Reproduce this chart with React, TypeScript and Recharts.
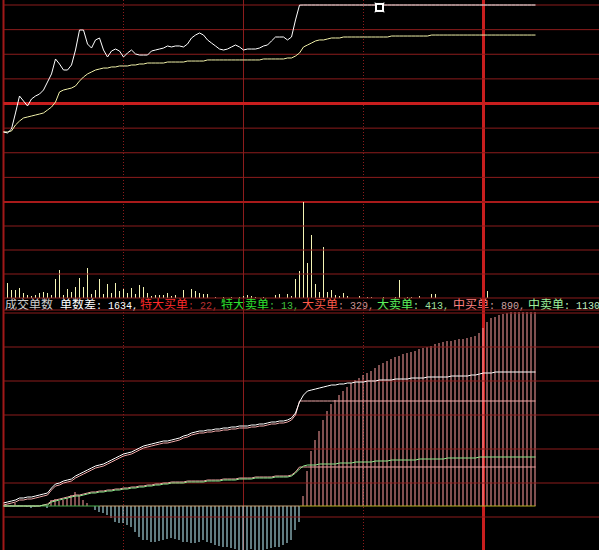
import React from 'react';
import { ComposedChart, Line, Bar, XAxis, YAxis, ReferenceLine, ReferenceDot } from 'recharts';

// price change vs previous close (%), one point per bar slot
const priceChg = [
  -2.89, -2.99, -2.59, -0.96, 0.76, 0.25, -0.25, 0.46, 0.76, 0.96,
  1.37, 2.18, 3.0, 4.52, 4.01, 3.4, 3.4, 3.91, 5.43, 7.46,
  7.46, 6.04, 5.63, 6.45, 6.65, 5.43, 4.72, 5.33, 5.53, 5.33,
  4.72, 5.13, 5.43, 5.03, 4.92, 4.92, 4.92, 5.33, 5.43, 5.53,
  5.63, 5.84, 5.74, 5.84, 5.84, 5.74, 6.04, 6.65, 6.95, 7.16,
  6.95, 6.45, 6.14, 5.84, 5.53, 5.43, 5.53, 5.74, 5.94, 5.74,
  5.43, 5.53, 5.53, 5.53, 5.63, 5.84, 5.94, 6.35, 6.75, 6.75,
  6.75, 6.45, 6.75, 8.48, 9.99, 10, 10, 10, 10, 10,
  10, 10, 10, 10, 10, 10, 10, 10, 10, 10,
  10, 10, 10, 10, 10, 10, 10, 10, 10, 10,
  10, 10, 10, 10, 10, 10, 10, 10, 10, 10,
  10, 10, 10, 10, 10, 10, 10, 10, 10, 10,
  10, 10, 10, 10, 10, 10, 10, 10, 10, 10,
  10, 10, 10, 10,
];

// average price change (%)
const avgChg = [
  -2.89, -2.89, -2.79, -2.18, -1.78, -1.47, -1.37, -1.27, -1.17, -1.07,
  -0.96, -0.66, -0.36, 0.15, 1.17, 1.37, 1.47, 1.57, 1.78, 2.28,
  2.69, 3.0, 3.2, 3.4, 3.5, 3.6, 3.6, 3.71, 3.71, 3.81,
  3.81, 3.81, 3.91, 3.91, 4.01, 4.01, 4.11, 4.11, 4.11, 4.11,
  4.11, 4.21, 4.21, 4.21, 4.21, 4.21, 4.31, 4.31, 4.31, 4.31,
  4.31, 4.42, 4.42, 4.42, 4.42, 4.42, 4.42, 4.42, 4.42, 4.42,
  4.42, 4.42, 4.42, 4.42, 4.42, 4.52, 4.52, 4.52, 4.52, 4.52,
  4.52, 4.62, 4.62, 4.82, 5.13, 5.74, 5.94, 6.14, 6.35, 6.45,
  6.45, 6.55, 6.65, 6.65, 6.65, 6.75, 6.75, 6.75, 6.75, 6.75,
  6.75, 6.75, 6.75, 6.75, 6.75, 6.75, 6.75, 6.85, 6.85, 6.85,
  6.85, 6.85, 6.85, 6.85, 6.85, 6.85, 6.85, 6.95, 6.95, 6.95,
  6.95, 6.95, 6.95, 6.95, 6.95, 6.95, 6.95, 6.95, 6.95, 6.95,
  6.95, 6.95, 6.95, 6.95, 6.95, 6.95, 6.95, 6.95, 6.95, 6.95,
  6.95, 6.95, 6.95, 6.95,
];

// traded volume
const volume = [
  0, 15, 8, 8, 10, 5, 3, 2, 3, 5,
  6, 5, 3, 19, 28, 3, 9, 6, 11, 20,
  11, 30, 4, 8, 19, 4, 14, 5, 15, 7,
  9, 5, 10, 4, 13, 11, 5, 2, 3, 3,
  3, 5, 2, 3, 0, 8, 0, 9, 7, 5,
  4, 4, 0, 1, 0, 1, 0, 1, 0, 1,
  2, 3, 2, 1, 0, 1, 0, 0, 3, 4,
  0, 4, 2, 19, 27, 96, 35, 63, 14, 6,
  51, 6, 8, 3, 2, 5, 2, 0, 0, 2,
  0, 1, 1, 0, 0, 1, 0, 0, 1, 18,
  0, 1, 1, 0, 2, 0, 0, 4, 4, 0,
  0, 0, 0, 0, 0, 0, 0, 0, 0, 0,
  0, 7, 0, 0, 0, 0, 0, 0, 0, 0,
  0, 0, 0, 0,
];

// order count difference (buy - sell)
const orderDiff = [
  0, 0, 1, 3, 1, 0, -1, -2, -1, 0,
  1, -2, 6, 7, 5, 6, 8, 11, 14, 11,
  6, 3, 0, -4, -6, -7, -9, -12, -16, -17,
  -17, -19, -21, -26, -31, -34, -34, -36, -36, -35,
  -34, -33, -32, -33, -34, -36, -36, -37, -37, -36,
  -34, -36, -37, -39, -40, -41, -41, -42, -43, -44,
  -44, -44, -43, -44, -44, -44, -43, -42, -41, -41,
  -39, -37, -34, -24, -16, 10, 35, 55, 66, 75,
  86, 95, 102, 106, 111, 115, 119, 123, 126, 128,
  131, 133, 135, 138, 141, 143, 145, 147, 149, 150,
  152, 153, 154, 155, 157, 158, 159, 160, 162, 163,
  164, 165, 165, 166, 167, 167, 168, 169, 170, 173,
  178, 184, 188, 189, 191, 192, 193, 194, 194, 194,
  194, 194, 194, 194,
];

// cumulative buy orders
const buyOrders = [
  3, 4, 5, 6, 8, 8, 9, 9, 10, 11,
  12, 13, 18, 22, 23, 25, 26, 27, 30, 32,
  34, 36, 38, 40, 41, 42, 44, 46, 48, 50,
  52, 53, 54, 56, 58, 60, 61, 62, 63, 64,
  65, 65, 66, 67, 68, 70, 71, 73, 74, 75,
  75, 76, 76, 77, 77, 78, 78, 79, 79, 80,
  80, 80, 81, 81, 82, 82, 83, 84, 84, 85,
  85, 86, 88, 93, 104, 111, 115, 116, 117, 118,
  119, 120, 121, 121, 122, 122, 123, 123, 124, 124,
  124, 125, 125, 125, 126, 126, 126, 126, 127, 127,
  127, 127, 128, 128, 128, 128, 129, 129, 129, 129,
  129, 129, 130, 130, 130, 130, 130, 131, 131, 132,
  133, 133, 133, 134, 134, 134, 134, 134, 134, 134,
  134, 134, 134, 134,
];

// cumulative sell orders
const sellOrders = [
  1, 2, 3, 4, 6, 6, 7, 7, 8, 9,
  10, 11, 16, 20, 21, 23, 24, 25, 28, 30,
  32, 34, 36, 38, 39, 40, 42, 44, 46, 48,
  50, 51, 52, 54, 56, 58, 59, 60, 61, 62,
  63, 63, 64, 65, 66, 68, 69, 71, 72, 73,
  73, 74, 74, 75, 75, 76, 76, 77, 77, 78,
  78, 78, 79, 79, 80, 80, 81, 82, 82, 83,
  83, 84, 86, 91, 105, 105, 105, 105, 105, 105,
  105, 105, 105, 105, 105, 105, 105, 105, 105, 105,
  105, 105, 105, 105, 105, 105, 105, 105, 105, 105,
  105, 105, 105, 105, 105, 105, 105, 105, 105, 105,
  105, 105, 105, 105, 105, 105, 105, 105, 105, 105,
  105, 105, 105, 105, 105, 105, 105, 105, 105, 105,
  105, 105, 105, 105,
];

// cumulative large buy orders
const bigBuy = [
  0, 0, 0, 0, 0, 0, 0, 0, 0, 0,
  1, 1, 4, 5, 6, 7, 8, 9, 10, 10,
  11, 12, 13, 13, 14, 14, 15, 15, 16, 16,
  17, 17, 18, 18, 19, 19, 20, 20, 21, 21,
  22, 22, 23, 23, 23, 23, 24, 24, 24, 24,
  24, 25, 25, 25, 25, 26, 26, 26, 26, 27,
  27, 27, 27, 28, 28, 28, 28, 28, 29, 29,
  29, 29, 30, 33, 37, 40, 41, 41, 41, 42,
  42, 42, 42, 42, 43, 43, 43, 43, 44, 44,
  44, 44, 44, 45, 45, 45, 45, 46, 46, 46,
  46, 46, 46, 46, 47, 47, 47, 47, 47, 47,
  47, 48, 48, 48, 48, 48, 48, 48, 48, 49,
  49, 49, 49, 49, 49, 49, 49, 49, 49, 49,
  49, 49, 49, 49,
];

// cumulative large sell orders
const bigSell = [
  0, 0, 0, 0, 0, 0, 0, 0, 0, 0,
  1, 2, 5, 6, 7, 8, 9, 10, 11, 11,
  12, 13, 14, 14, 15, 15, 16, 16, 17, 17,
  18, 18, 19, 19, 20, 20, 21, 21, 22, 22,
  23, 23, 24, 24, 24, 24, 25, 25, 25, 25,
  25, 26, 26, 26, 26, 27, 27, 27, 27, 28,
  28, 28, 28, 29, 29, 29, 29, 29, 30, 30,
  30, 30, 31, 34, 39, 39, 39, 39, 39, 39,
  39, 39, 39, 39, 39, 39, 39, 39, 39, 39,
  39, 39, 39, 39, 39, 39, 39, 39, 39, 39,
  39, 39, 39, 39, 39, 39, 39, 39, 39, 39,
  39, 39, 39, 39, 39, 39, 39, 39, 39, 39,
  39, 39, 39, 39, 39, 39, 39, 39, 39, 39,
  39, 39, 39, 39,
];

const legendNames = ['单数差', '特大买单', '特大卖单', '大买单', '大卖单', '中买单', '中卖单'];
const legendCounts = [1634, 22, 13, 329, 413, 890, 1130];

const W = 599;
const H = 550;
// index i lands on pixel column 4i + 3.5
const X_DOMAIN: [number, number] = [-0.875, 148.875];

// every panel chart covers the full canvas; the y domain places its zero row
const yDomain = (zeroY: number, pxPerUnit: number): [number, number] => [
  (zeroY - H) / pxPerUnit,
  zeroY / pxPerUnit,
];

const GRID = '#8c1c1c';
const GRID_HOT = '#c81e1e';

const data = priceChg.map((p, i) => ({
  i,
  price: p,
  avg: avgChg[i],
  vol: volume[i],
  // split by sign so each side gets its own colour
  diffUp: orderDiff[i] > 0 ? orderDiff[i] : null,
  diffDown: orderDiff[i] < 0 ? orderDiff[i] : null,
  buy: buyOrders[i],
  sell: sellOrders[i],
  bigBuy: bigBuy[i],
  bigSell: bigSell[i],
}));

const hLine = (y: number, color = GRID, width = 1, key?: string) => (
  <ReferenceLine
    key={key ?? `h${y}`}
    segment={[{ x: 0, y }, { x: X_DOMAIN[1], y }]}
    stroke={color}
    strokeWidth={width}
  />
);

const layer: React.CSSProperties = { position: 'absolute', left: 0, top: 0 };

const Marker = (props: any) => {
  const { cx, cy } = props;
  return (
    <g>
      <rect x={cx - 3.5} y={cy - 3.5} width={7} height={7} fill="#000" stroke="#fff" strokeWidth={2} />
      <rect x={cx - 5} y={cy - 5} width={1} height={1} fill="#fff" />
      <rect x={cx + 4} y={cy - 5} width={1} height={1} fill="#fff" />
      <rect x={cx - 5} y={cy + 4} width={1} height={1} fill="#fff" />
      <rect x={cx + 4} y={cy + 4} width={1} height={1} fill="#fff" />
    </g>
  );
};

function PricePanel() {
  return (
    <ComposedChart width={W} height={H} data={data} margin={{ top: 0, right: 0, bottom: 0, left: 0 }} style={layer}>
      <XAxis dataKey="i" type="number" domain={X_DOMAIN} hide allowDataOverflow />
      <YAxis type="number" domain={yDomain(103.5, 9.85)} hide allowDataOverflow />
      <ReferenceLine x={0} stroke="#a01818" strokeWidth={2} />
      <ReferenceLine x={30} stroke={GRID} strokeDasharray="1 2" />
      <ReferenceLine x={60} stroke={GRID} />
      <ReferenceLine x={90} stroke={GRID} strokeDasharray="1 2" />
      <ReferenceLine x={120} stroke={GRID_HOT} strokeWidth={3} />
      {[10, 7.5, 5, 2.5, -2.5, -5, -7.5].map((v) => hLine(v))}
      {hLine(0, GRID_HOT, 3)}
      {hLine(-10, '#a81a1a', 2)}
      <Line dataKey="avg" type="linear" stroke="#f0f0a8" strokeWidth={1} dot={false} activeDot={false} isAnimationActive={false} />
      <Line dataKey="price" type="linear" stroke="#ffffff" strokeWidth={1} dot={false} activeDot={false} isAnimationActive={false} />
      <ReferenceDot x={94} y={9.75} r={4} shape={Marker} />
    </ComposedChart>
  );
}

function VolumePanel() {
  return (
    <ComposedChart width={W} height={H} data={data} margin={{ top: 0, right: 0, bottom: 0, left: 0 }} style={layer}>
      <XAxis dataKey="i" type="number" domain={X_DOMAIN} hide allowDataOverflow />
      <YAxis type="number" domain={yDomain(298, 1)} hide allowDataOverflow />
      {[72, 48, 24, 0, -12].map((v) => hLine(v))}
      <Bar dataKey="vol" barSize={1} fill="#f4f4b4" shapeRendering="crispEdges" activeBar={false} isAnimationActive={false} />
    </ComposedChart>
  );
}

function OrderPanel() {
  return (
    <ComposedChart width={W} height={H} data={data} margin={{ top: 0, right: 0, bottom: 0, left: 0 }} style={layer}>
      <XAxis dataKey="i" type="number" domain={X_DOMAIN} hide allowDataOverflow />
      <YAxis type="number" domain={yDomain(506, 1)} hide allowDataOverflow />
      {[193, 159, 125, 91, 57, 23, -11].map((v) => hLine(v))}
      <Bar dataKey="diffUp" stackId="d" barSize={1} fill="#ffa0a0" activeBar={false} isAnimationActive={false} />
      <Bar dataKey="diffDown" stackId="d" barSize={1} fill="#c0f6ff" activeBar={false} isAnimationActive={false} />
      <ReferenceLine segment={[{ x: 0, y: 0 }, { x: 24, y: 0 }]} stroke="#4cb04c" />
      <ReferenceLine segment={[{ x: 24, y: 0 }, { x: 74, y: 0 }]} stroke="#c8a070" />
      <ReferenceLine segment={[{ x: 74, y: 0 }, { x: 133, y: 0 }]} stroke="#b8b020" />
      <Line dataKey="bigSell" type="linear" stroke="#eca0a0" strokeWidth={1} dot={false} activeDot={false} isAnimationActive={false} />
      <Line dataKey="bigBuy" type="linear" stroke="#8ce88c" strokeWidth={1} dot={false} activeDot={false} isAnimationActive={false} />
      <Line dataKey="sell" type="linear" stroke="#f0a8a8" strokeWidth={1} dot={false} activeDot={false} isAnimationActive={false} />
      <Line dataKey="buy" type="linear" stroke="#ffffff" strokeWidth={1} dot={false} activeDot={false} isAnimationActive={false} />
    </ComposedChart>
  );
}

const nameColors = ['#ffffff', '#ff2a2a', '#2ee02e', '#ff5a4a', '#5cf05c', '#ff8080', '#9cf09c'];
const countColors = ['#ffffff', '#b83030', '#40c040', '#c89090', '#a0e0a0', '#d0a0a0', '#c0f0c0'];
const legendX = [60, 140, 221, 302, 377, 453, 528];

function OrderLegend() {
  const cjk = "'Noto Sans CJK SC', sans-serif";
  return (
    <div style={{ position: 'absolute', left: 0, top: 298, width: W, height: 12, fontSize: 12, lineHeight: '12px', whiteSpace: 'pre' }}>
      <span style={{ position: 'absolute', left: 5, color: '#cccccc', fontFamily: cjk }}>成交单数</span>
      {legendNames.map((name, k) => (
        <span key={name} style={{ position: 'absolute', left: legendX[k] }}>
          <span style={{ color: nameColors[k], fontFamily: cjk }}>{name}</span>
          <span style={{ color: countColors[k], fontFamily: "'Liberation Mono', monospace", fontSize: 10 }}>
            {`: ${legendCounts[k]}${k < legendNames.length - 1 ? ',' : ''}`}
          </span>
        </span>
      ))}
    </div>
  );
}

export default function App() {
  return (
    <div style={{ position: 'fixed', left: 0, top: 0, width: W, height: H, background: '#000', overflow: 'hidden' }}>
      <OrderLegend />
      <PricePanel />
      <VolumePanel />
      <OrderPanel />
    </div>
  );
}
